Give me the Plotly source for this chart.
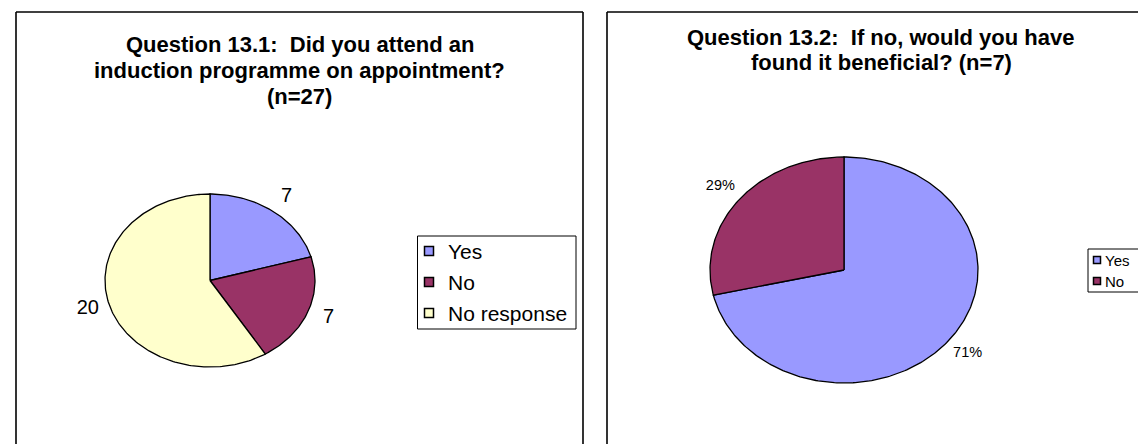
import numpy as np
import plotly.graph_objects as go

W, H = 1138, 444
FONT = "Liberation Sans, Arial, Helvetica, sans-serif"

# ---- data -------------------------------------------------------------
q1_labels = ["Yes", "No", "No response"]
q1_values = [7, 7, 20]

q2_labels = ["Yes", "No"]
q2_values = [5, 2]

q1_title = ["Question 13.1:\u00a0 Did you attend an",
            "induction programme on appointment?",
            "(n=27)"]
q2_title = ["Question 13.2:\u00a0 If no, would you have",
            "found it beneficial? (n=7)"]

COLORS = {"Yes": "#9999FF", "No": "#993366", "No response": "#FFFFCC"}

# ---- layout helpers -----------------------------------------------------
def fx(p):
    return p / W


def fy(p):
    return 1 - p / H


EXT = 1.5  # axis half-range in units of pie radius


def pie_axes(cx, cy, rx, ry):
    """Axis domains so that a unit circle becomes an ellipse centred at (cx, cy) px."""
    xd = [fx(cx - rx * EXT), fx(cx + rx * EXT)]
    yd = [fy(cy + ry * EXT), fy(cy - ry * EXT)]
    common = dict(range=[-EXT, EXT], visible=False, fixedrange=True)
    return dict(domain=xd, **common), dict(domain=yd, **common)


def add_pie(fig, labels, values, xa, ya, text_fn, label_font, label_r):
    total = float(sum(values))
    ends = np.cumsum(values) / total * 2 * np.pi
    starts = ends - np.asarray(values) / total * 2 * np.pi
    for lab, v, s, e in zip(labels, values, starts, ends):
        n = max(int(np.degrees(e - s)), 2) + 1
        t = np.linspace(s, e, n)
        xs = np.concatenate([[0.0], np.sin(t), [0.0]])
        ys = np.concatenate([[0.0], np.cos(t), [0.0]])
        fig.add_trace(go.Scatter(
            x=xs, y=ys, mode="lines", fill="toself", name=lab,
            fillcolor=COLORS[lab], line=dict(color="black", width=1.3),
            hoverinfo="skip", showlegend=False, xaxis=xa, yaxis=ya,
        ))
        mid = (s + e) / 2
        fig.add_trace(go.Scatter(
            x=[label_r * np.sin(mid)], y=[label_r * np.cos(mid)],
            mode="text", text=[text_fn(v, total)],
            textfont=label_font, textposition="middle center",
            cliponaxis=False, hoverinfo="skip", showlegend=False,
            xaxis=xa, yaxis=ya,
        ))


def legend_box(labels, left, top, bottom, right, sym_x, sym_size, text_x, rows, font_size):
    """Boxed key: bordered frame, one swatch and label per category."""
    shp = [dict(type="rect", xref="paper", yref="paper",
                x0=fx(left), x1=fx(right), y0=fy(bottom), y1=fy(top),
                line=dict(color="black", width=1), fillcolor="white", layer="above")]
    ann = []
    h = sym_size / 2
    for lab, ry in zip(labels, rows):
        shp.append(dict(type="rect", xref="paper", yref="paper",
                        x0=fx(sym_x - h), x1=fx(sym_x + h), y0=fy(ry + h), y1=fy(ry - h),
                        line=dict(color="black", width=1.5), fillcolor=COLORS[lab],
                        layer="above"))
        ann.append(dict(text=lab, x=fx(text_x), y=fy(ry), xref="paper", yref="paper",
                        xanchor="left", yanchor="middle", showarrow=False,
                        font=dict(family=FONT, size=font_size, color="black")))
    return shp, ann


def title_lines(lines, cx, ys, size):
    return [dict(text=f"<b>{ln}</b>", x=fx(cx), y=fy(y), xref="paper", yref="paper",
                 xanchor="center", yanchor="middle", showarrow=False,
                 font=dict(family=FONT, size=size, color="black"))
            for ln, y in zip(lines, ys)]


fig = go.Figure()

add_pie(fig, q1_labels, q1_values, "x", "y",
        lambda v, t: f"{v:g}",
        dict(family=FONT, size=20, color="black"), 1.21)
add_pie(fig, q2_labels, q2_values, "x2", "y2",
        lambda v, t: f"{round(v / t * 100):.0f}%",
        dict(family=FONT, size=14.5, color="black"), 1.18)

xa1, ya1 = pie_axes(210, 280.5, 105, 86.5)
xa2, ya2 = pie_axes(844, 270, 134, 113)

# panel borders
border = dict(color="black", width=1.6)
shapes = [
    dict(type="line", xref="paper", yref="paper", x0=fx(16), x1=fx(583), y0=fy(12), y1=fy(12), line=border),
    dict(type="line", xref="paper", yref="paper", x0=fx(16), x1=fx(16), y0=fy(12), y1=0, line=border),
    dict(type="line", xref="paper", yref="paper", x0=fx(583), x1=fx(583), y0=fy(12), y1=0, line=border),
    dict(type="line", xref="paper", yref="paper", x0=fx(607), x1=1, y0=fy(12), y1=fy(12), line=border),
    dict(type="line", xref="paper", yref="paper", x0=fx(607), x1=fx(607), y0=fy(12), y1=0, line=border),
]

annotations = (title_lines(q1_title, 299.5, [45, 70.5, 96], 22)
               + title_lines(q2_title, 881, [37, 62], 22))

s1, a1 = legend_box(q1_labels, 417.5, 236, 329, 576, 429, 9, 446, [251, 282, 313], 21)
s2, a2 = legend_box(q2_labels, 1088, 249, 292, 1160, 1097, 7, 1103, [260, 281], 15)
shapes += s1 + s2
annotations += a1 + a2

fig.update_layout(
    width=W, height=H,
    margin=dict(l=0, r=0, t=0, b=0, autoexpand=False),
    paper_bgcolor="white", plot_bgcolor="white",
    xaxis=xa1, yaxis=ya1, xaxis2=xa2, yaxis2=ya2,
    shapes=shapes, annotations=annotations,
    showlegend=False,
)

fig.write_html("out.html")
